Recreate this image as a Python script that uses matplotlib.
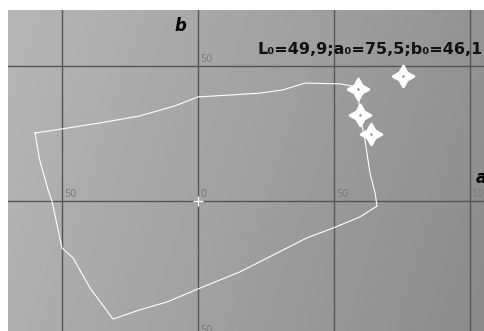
import numpy as np
import matplotlib.pyplot as plt
from matplotlib.path import Path

# gamut outline in a*, b* units
gamut_a = [-60.0, -50.1, -36.1, -21.4, -8.5, 0.0, 11.8, 22.8, 31.3, 39.4, 52.3, 56.7,
           58.9, 59.6, 61.5, 63.3, 65.2, 65.9, 59.6, 49.7, 40.1, 15.5, 0.0, -11.4,
           -21.4, -31.3, -39.8, -46.0, -50.1, -52.3, -53.8, -55.2, -58.3, -60.0]
gamut_b = [25.2, 26.7, 28.9, 31.5, 35.2, 38.5, 39.2, 39.9, 41.1, 43.6, 43.3, 42.5,
           41.1, 31.8, 22.6, 10.5, 3.1, -1.7, -5.7, -9.8, -13.4, -25.9, -32.2, -37.0,
           -39.9, -43.3, -31.8, -20.8, -17.1, -6.8, 0.2, 4.2, 15.3, 25.2]

# measured samples (stars) and the reference colour
sample_a = [58.9, 59.6, 63.7]
sample_b = [41.4, 31.8, 24.9]
L0, a0, b0 = 49.9, 75.5, 46.1

grid_vals = [-50, 0, 50, 100]
xlim = (-69.96, 105.67)
ylim = (-47.7, 70.5)

fig = plt.figure(figsize=(4.85, 3.31), dpi=100)
ax = fig.add_axes([8/485, 0, 477/485, 321/331])

# grey gradient background, lighter on the left
gx = np.linspace(0.70, 0.56, 200)
gy = np.linspace(0.015, -0.015, 100)
grad = gx[None, :] + gy[:, None]
ax.imshow(grad, cmap='gray', vmin=0, vmax=1, extent=[xlim[0], xlim[1], ylim[0], ylim[1]],
          aspect='auto', zorder=0, interpolation='bilinear')

for v in grid_vals:
    ax.axvline(v, color='#555555', lw=1, zorder=1)
    ax.axhline(v, color='#555555', lw=1, zorder=1)
    ax.text(v + 0.8, 0.8, str(abs(v)), color='#7a7a7a', fontsize=7, ha='left', va='bottom', zorder=2)
for v in [50, -50]:
    ax.text(0.8, v + 0.8, str(abs(v)), color='#7a7a7a', fontsize=7, ha='left', va='bottom', zorder=2)

ax.plot(gamut_a, gamut_b, color='white', lw=0.8, zorder=3)

star = Path.unit_regular_star(4, 0.5)
ax.plot(sample_a, sample_b, linestyle='none', marker=star, ms=15, color='white', mec='white',
        mew=2, mfc='white', zorder=4)
ax.plot([a0], [b0], linestyle='none', marker=star, ms=15, color='white', mec='white',
        mew=2, zorder=4)
ax.plot(sample_a + [a0], sample_b + [b0], linestyle='none', marker='.', ms=1.5, color='#888888', zorder=5)
ax.plot([0], [0], marker='+', ms=7, color='white', mew=1, zorder=5)

ax.text(-6.5, 64.5, 'b', fontsize=12, fontweight='bold', fontstyle='italic', ha='center', va='center')
ax.text(104.5, 8.5, 'a', fontsize=12, fontweight='bold', fontstyle='italic', ha='center', va='center')
ax.text(104.8, 56.0, f'L₀={L0:.1f};a₀={a0:.1f};b₀={b0:.1f}'.replace('.', ','),
        fontsize=11.5, fontweight='bold', ha='right', va='center', color='#111111')

ax.set_xlim(xlim)
ax.set_ylim(ylim)
ax.axis('off')

fig.savefig('out.png', dpi=100, facecolor='white')
